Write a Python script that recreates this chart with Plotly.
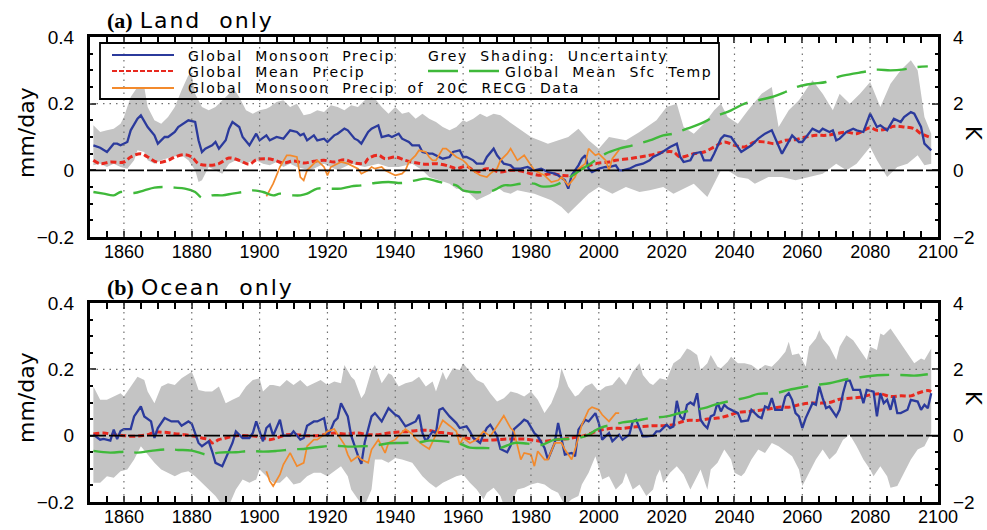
import plotly.graph_objects as go

# ---------------- DATA ----------------
# Panel (a) Land only
LAND_MON_YEARS = [1851,1853,1855,1857,1858,1859,1861,1862,1864,1865,1867,1869,1870,1872,1873,1875,1876,1878,1879,1881,
                  1882,1883,1884,1886,1887,1888,1890,1891,1892,1894,1895,1897,1898,1899,1900,1902,1903,1905,1907,1909,
                  1911,1912,1913,1914,1916,1917,1919,1920,1922,1923,1925,1926,1928,1929,1930,1932,1933,1935,1936,1938,
                  1939,1941,1942,1944,1945,1947,1948,1950,1951,1953,1954,1956,1957,1959,1960,1961,1963,1964,1966,1967,
                  1969,1970,1972,1974,1975,1977,1979,1981,1983,1985,1987,1988,1990,1991,1992,1994,1995,1996,1997,1998,
                  2000,2002,2003,2005,2006,2007,2009,2011,2013,2015,2016,2018,2020,2021,2023,2024,2025,2027,2028,2030,
                  2031,2033,2034,2036,2037,2039,2042,2045,2047,2049,2051,2054,2057,2059,2060,2063,2065,2066,2068,2069,
                  2070,2071,2073,2075,2076,2078,2080,2082,2083,2085,2087,2089,2090,2092,2093,2095,2096,2098]
LAND_MON = [0.075,0.068,0.055,0.08,0.08,0.075,0.085,0.12,0.155,0.165,0.13,0.105,0.08,0.1,0.1,0.115,0.13,0.145,0.15,0.145,
            0.09,0.055,0.065,0.075,0.085,0.065,0.09,0.125,0.145,0.13,0.1,0.075,0.095,0.11,0.09,0.105,0.09,0.1,0.095,0.12,
            0.115,0.105,0.11,0.09,0.105,0.09,0.095,0.085,0.105,0.11,0.125,0.12,0.095,0.09,0.08,0.115,0.125,0.135,0.1,0.105,
            0.1,0.11,0.095,0.085,0.075,0.075,0.055,0.05,0.05,0.04,0.035,0.04,0.055,0.06,0.04,0.04,0.03,0.02,0.02,0.04,
            0.065,0.045,0.02,0.015,0.005,0.005,0.01,0.0,0.005,-0.005,-0.01,-0.015,-0.03,-0.055,-0.015,0.015,0.035,0.045,0.005,-0.005,
            0.005,0.01,0.01,0.015,0.0,0.0,0.005,0.015,0.02,0.03,0.04,0.05,0.065,0.07,0.08,0.04,0.025,0.03,0.05,0.055,
            0.03,0.03,0.05,0.095,0.105,0.1,0.055,0.075,0.095,0.11,0.12,0.05,0.105,0.085,0.085,0.125,0.115,0.125,0.115,0.12,
            0.09,0.095,0.115,0.125,0.12,0.115,0.17,0.13,0.135,0.12,0.155,0.145,0.16,0.175,0.17,0.13,0.08,0.06]

LAND_MEAN_YEARS = [1851,1853,1856,1860,1862,1865,1867,1870,1873,1875,1878,1880,1882,1885,1888,1891,1894,1897,1899,1902,
                   1904,1907,1910,1913,1916,1919,1922,1925,1928,1931,1932,1935,1937,1940,1943,1946,1949,1952,1956,1958,
                   1961,1964,1967,1971,1974,1977,1980,1983,1986,1989,1992,1994,1996,1999,2003,2005,2009,2012,2015,2019,
                   2022,2024,2028,2031,2034,2037,2040,2043,2046,2049,2052,2055,2058,2061,2064,2067,2070,2073,2076,2080,
                   2082,2085,2087,2090,2093,2095,2098]
LAND_MEAN = [0.03,0.02,0.025,0.025,0.04,0.05,0.04,0.024,0.03,0.04,0.047,0.04,0.02,0.015,0.02,0.037,0.03,0.018,0.032,0.035,
             0.032,0.022,0.028,0.022,0.027,0.03,0.025,0.032,0.022,0.022,0.035,0.045,0.035,0.04,0.03,0.023,0.018,0.02,0.012,0.005,
             0.012,-0.005,0.005,-0.005,0.0,-0.002,-0.01,-0.015,-0.01,-0.015,-0.015,0.0,0.01,0.02,0.025,0.03,0.035,0.04,0.045,0.055,
             0.055,0.04,0.05,0.055,0.07,0.085,0.075,0.07,0.085,0.085,0.08,0.09,0.092,0.1,0.105,0.105,0.11,0.115,0.11,0.128,
             0.12,0.125,0.132,0.13,0.125,0.11,0.098]

LAND_TEMP_YEARS = [1851,1854,1857,1859,1863,1866,1869,1872,1875,1878,1881,1883,1886,1889,1892,1895,1898,1901,1904,1906,
                   1910,1912,1914,1917,1921,1924,1927,1930,1934,1938,1942,1946,1949,1952,1955,1958,1960,1963,1966,1969,
                   1972,1974,1977,1981,1983,1987,1990,1993,1996,1999,2002,2006,2010,2015,2019,2022,2026,2030,2034,2039,
                   2043,2047,2051,2055,2059,2063,2067,2071,2074,2078,2082,2086,2090,2094,2097]
LAND_TEMP = [-0.65,-0.7,-0.75,-0.65,-0.68,-0.6,-0.52,-0.5,-0.52,-0.55,-0.65,-0.82,-0.75,-0.75,-0.7,-0.65,-0.6,-0.65,-0.75,-0.7,
             -0.75,-0.75,-0.7,-0.55,-0.55,-0.55,-0.48,-0.45,-0.38,-0.35,-0.38,-0.3,-0.25,-0.32,-0.4,-0.45,-0.6,-0.65,-0.65,-0.6,
             -0.45,-0.45,-0.4,-0.4,-0.48,-0.45,-0.3,-0.1,0.1,0.3,0.5,0.65,0.75,0.9,1.05,1.1,1.25,1.4,1.6,1.8,
             2.0,2.1,2.2,2.35,2.52,2.6,2.65,2.82,2.88,2.95,3.02,3.0,3.03,3.1,3.12]

LAND_RECG_YEARS = [1902,1903,1904,1905,1906,1908,1909,1911,1912,1913,1914,1916,1917,1919,1920,1921,1923,1924,1926,1927,
                   1929,1930,1932,1933,1934,1936,1937,1939,1940,1942,1943,1944,1946,1947,1949,1950,1951,1952,1953,1954,
                   1955,1957,1958,1960,1961,1962,1964,1965,1967,1968,1970,1971,1973,1974,1976,1978,1979,1981,1983,1984,
                   1986,1988,1989,1991,1993,1994,1996,1997,1999,2000,2002,2003,2004,2006]
LAND_RECG = [-0.078,-0.06,-0.04,-0.015,0.01,0.045,0.045,0.04,-0.02,-0.03,0.0,0.02,0.03,0.01,-0.015,0.01,0.02,0.025,0.02,0.015,
             0.005,-0.01,0.0,0.01,0.005,0.01,0.0,-0.01,-0.015,-0.01,0.0,0.025,0.045,0.06,0.055,0.04,0.03,0.03,0.05,0.065,
             0.065,0.05,0.04,0.03,0.02,0.005,-0.01,-0.015,-0.02,-0.01,0.005,0.03,0.05,0.065,0.03,0.045,0.03,0.0,-0.01,-0.015,
             -0.035,-0.03,-0.02,-0.045,-0.02,0.005,0.02,0.065,0.045,0.05,0.03,0.0,0.035,0.062]

LAND_UNC_UP_YEARS = [1851,1853,1855,1857,1859,1860,1862,1864,1866,1867,1869,1871,1873,1875,1877,1879,1880,1881,1883,1885,
                     1887,1889,1891,1892,1894,1896,1898,1900,1902,1903,1905,1907,1909,1911,1913,1915,1917,1919,1921,1923,
                     1925,1927,1929,1931,1933,1934,1936,1938,1940,1942,1944,1946,1948,1950,1952,1954,1956,1958,1960,1961,
                     1963,1965,1967,1969,1971,1973,1975,1976,1980,1985,1991,1994,1997,2000,2003,2008,2012,2017,2020,2023,
                     2025,2028,2031,2034,2036,2038,2041,2044,2048,2051,2053,2056,2059,2063,2066,2069,2071,2074,2077,2080,
                     2083,2086,2089,2092,2094,2096,2098]
LAND_UNC_UP = [0.135,0.115,0.12,0.125,0.14,0.16,0.22,0.25,0.25,0.19,0.15,0.14,0.16,0.19,0.24,0.285,0.285,0.23,0.19,0.18,
               0.19,0.21,0.23,0.25,0.22,0.18,0.17,0.18,0.185,0.19,0.205,0.21,0.19,0.2,0.165,0.17,0.18,0.175,0.195,0.19,
               0.18,0.195,0.19,0.21,0.22,0.215,0.19,0.17,0.19,0.17,0.175,0.155,0.17,0.155,0.145,0.13,0.12,0.13,0.15,0.145,
               0.155,0.17,0.16,0.17,0.165,0.15,0.135,0.13,0.1,0.08,0.1,0.125,0.09,0.065,0.1,0.09,0.115,0.15,0.19,0.2,
               0.13,0.11,0.14,0.18,0.2,0.16,0.14,0.18,0.23,0.25,0.13,0.18,0.21,0.27,0.23,0.18,0.23,0.2,0.23,0.265,
               0.19,0.26,0.3,0.33,0.3,0.16,0.11]
LAND_UNC_LO_YEARS = [1851,1853,1855,1857,1859,1861,1863,1864,1866,1867,1869,1871,1874,1877,1879,1881,1882,1883,1885,1887,
                     1889,1891,1893,1895,1897,1899,1901,1903,1905,1907,1909,1911,1913,1915,1919,1923,1927,1931,1935,1938,
                     1941,1945,1948,1950,1953,1956,1958,1960,1962,1964,1966,1968,1970,1972,1974,1976,1981,1986,1989,1991,
                     1994,1997,2000,2004,2008,2012,2015,2019,2022,2024,2028,2032,2034,2036,2038,2041,2044,2046,2050,2054,
                     2058,2062,2066,2070,2073,2076,2080,2082,2085,2088,2091,2094,2096,2098]
LAND_UNC_LO = [0.015,0.02,0.01,0.02,0.01,0.005,0.03,0.06,0.055,0.03,0.02,0.03,0.04,0.045,0.03,0.0,-0.035,-0.03,0.01,0.0,
               -0.01,0.02,0.03,0.02,0.025,0.03,0.02,0.015,0.025,0.01,0.02,0.01,0.005,0.0,0.02,0.0,0.02,0.01,0.02,0.01,
               0.01,0.02,0.0,-0.02,-0.03,-0.04,-0.055,-0.055,-0.07,-0.09,-0.08,-0.07,-0.05,-0.065,-0.07,-0.06,-0.07,-0.09,-0.11,-0.13,
               -0.1,-0.07,-0.05,-0.07,-0.05,-0.065,-0.06,-0.05,-0.07,-0.06,-0.04,-0.08,-0.04,0.0,0.0,-0.02,-0.025,-0.04,-0.02,-0.02,
               -0.03,-0.02,-0.01,0.02,0.0,0.02,0.07,0.03,-0.02,0.01,0.02,0.045,0.015,0.02]

# Panel (b) Ocean only
OCN_MON_YEARS = [1851,1853,1854,1856,1857,1858,1859,1860,1862,1863,1865,1866,1868,1869,1870,1872,1874,1876,1877,1879,
                 1880,1882,1883,1885,1886,1887,1889,1890,1892,1893,1894,1895,1897,1898,1899,1900,1901,1902,1903,1904,
                 1906,1907,1909,1910,1912,1913,1914,1916,1917,1919,1920,1921,1922,1923,1924,1926,1927,1929,1930,1931,
                 1933,1934,1936,1938,1940,1941,1943,1944,1946,1947,1948,1949,1951,1952,1953,1954,1956,1958,1959,1961,
                 1962,1963,1965,1966,1967,1968,1970,1971,1973,1974,1975,1977,1978,1979,1981,1982,1984,1985,1987,1988,
                 1989,1990,1992,1993,1994,1996,1997,1999,2000,2001,2003,2004,2006,2007,2009,2010,2011,2013,2014,2016,
                 2017,2018,2020,2021,2022,2023,2024,2025,2026,2027,2028,2029,2030,2031,2032,2033,2034,2035,2036,2037,
                 2038,2040,2041,2042,2044,2045,2047,2048,2049,2050,2051,2052,2054,2055,2056,2057,2058,2059,2060,2061,
                 2063,2064,2065,2066,2067,2068,2070,2071,2072,2073,2074,2075,2077,2078,2079,2081,2082,2083,2084,2085,
                 2086,2087,2088,2089,2091,2092,2094,2095,2096,2097,2098]
OCN_MON = [0.003,-0.012,-0.01,-0.015,0.018,-0.01,0.014,0.02,0.02,0.058,0.088,0.058,0.043,-0.007,0.023,0.053,0.043,0.043,0.03,0.043,
           0.036,-0.022,-0.032,-0.017,-0.047,-0.082,-0.092,-0.067,-0.022,0.013,0.003,-0.007,-0.007,0.008,0.043,0.013,-0.017,0.023,0.033,0.0,
           0.048,0.0,0.0,0.013,-0.012,-0.007,0.03,0.043,0.043,0.053,0.0,0.018,0.043,0.053,0.098,0.058,0.0,-0.06,-0.085,-0.02,
           0.058,0.068,0.043,0.083,0.063,0.058,0.028,0.033,0.043,0.063,0.008,-0.017,0.013,0.008,0.078,0.083,0.058,0.038,0.023,0.028,
           0.013,-0.007,-0.022,0.003,0.023,0.033,0.0,-0.04,-0.05,-0.03,0.02,0.038,0.048,0.043,0.008,-0.002,-0.037,-0.072,-0.022,0.038,
           -0.007,-0.057,-0.052,-0.062,0.018,0.048,0.043,0.068,0.038,-0.012,0.008,-0.017,0.003,-0.012,0.003,0.043,0.048,-0.002,-0.002,0.0,
           0.013,0.013,0.033,0.023,0.028,0.105,0.058,0.048,0.093,0.1,0.093,0.128,0.048,0.033,0.023,0.058,0.063,0.1,0.073,0.093,
           0.083,0.073,0.068,0.043,0.046,0.078,0.058,0.053,0.088,0.083,0.113,0.078,0.078,0.118,0.128,0.108,0.068,0.058,0.023,0.053,
           0.098,0.093,0.148,0.113,0.083,0.088,0.058,0.078,0.128,0.166,0.166,0.138,0.138,0.098,0.138,0.133,0.058,0.128,0.098,0.108,
           0.078,0.118,0.068,0.068,0.078,0.108,0.103,0.078,0.093,0.083,0.128]

OCN_MEAN_YEARS = [1851,1854,1857,1860,1863,1865,1867,1869,1872,1875,1878,1881,1883,1885,1886,1888,1890,1893,1896,1899,
                  1901,1903,1905,1908,1911,1914,1917,1920,1922,1925,1929,1932,1935,1938,1941,1944,1947,1950,1952,1955,
                  1958,1961,1964,1967,1970,1973,1976,1978,1981,1984,1987,1990,1992,1995,1998,2001,2004,2007,2010,2013,
                  2016,2019,2022,2024,2026,2029,2032,2035,2038,2041,2044,2047,2050,2053,2056,2059,2062,2065,2068,2071,
                  2074,2077,2080,2083,2086,2089,2092,2094,2097,2098]
OCN_MEAN = [0.005,0.008,0.003,0.0,-0.002,0.0,0.003,0.01,0.01,0.006,0.003,-0.002,-0.007,-0.012,-0.022,-0.012,-0.007,0.0,0.0,-0.002,
            -0.007,-0.012,-0.007,0.003,0.003,0.0,0.0,0.005,0.008,0.005,0.008,0.003,0.003,0.008,0.011,0.013,0.016,0.016,0.011,0.008,
            0.003,-0.007,-0.012,-0.014,-0.012,-0.01,-0.01,-0.01,-0.014,-0.017,-0.012,-0.01,-0.007,-0.002,0.008,0.018,0.022,0.022,0.026,0.028,
            0.03,0.03,0.033,0.04,0.046,0.046,0.05,0.053,0.06,0.07,0.073,0.076,0.08,0.086,0.086,0.093,0.098,0.098,0.1,0.11,
            0.113,0.116,0.123,0.126,0.118,0.12,0.12,0.128,0.136,0.133]

OCN_TEMP_YEARS = [1851,1856,1861,1864,1868,1873,1876,1880,1885,1888,1893,1897,1901,1905,1910,1913,1917,1922,1926,1930,
                  1934,1938,1942,1947,1950,1955,1959,1962,1966,1971,1975,1979,1983,1987,1991,1994,1997,1999,2001,2004,
                  2007,2011,2015,2020,2023,2027,2031,2035,2039,2044,2047,2052,2056,2060,2064,2068,2072,2077,2080,2084,
                  2089,2093,2097]
OCN_TEMP = [-0.46,-0.51,-0.48,-0.51,-0.46,-0.41,-0.43,-0.45,-0.58,-0.51,-0.5,-0.46,-0.48,-0.46,-0.41,-0.4,-0.35,-0.3,-0.33,-0.32,
            -0.3,-0.23,-0.22,-0.2,-0.15,-0.18,-0.24,-0.36,-0.37,-0.37,-0.22,-0.24,-0.28,-0.12,-0.1,-0.07,0.03,0.16,0.26,0.33,
            0.4,0.45,0.53,0.58,0.66,0.76,0.83,0.96,1.05,1.16,1.26,1.28,1.38,1.46,1.53,1.58,1.68,1.76,1.8,1.83,
            1.83,1.81,1.85]

OCN_RECG_YEARS = [1902,1903,1904,1906,1907,1909,1910,1911,1913,1914,1916,1917,1919,1920,1922,1923,1924,1925,1926,1927,
                  1929,1930,1932,1933,1935,1937,1938,1940,1941,1943,1945,1946,1948,1950,1952,1954,1956,1958,1959,1960,
                  1962,1964,1966,1968,1969,1972,1974,1975,1977,1978,1980,1981,1982,1984,1985,1987,1989,1990,1992,1993,
                  1995,1997,1998,2000,2001,2003,2005,2006]
OCN_RECG = [-0.107,-0.137,-0.152,-0.117,-0.087,-0.052,-0.072,-0.092,-0.082,-0.032,-0.012,-0.012,0.003,0.013,0.02,0.003,-0.012,-0.027,-0.057,-0.077,
            -0.062,-0.072,-0.082,-0.042,-0.012,-0.052,-0.022,-0.012,0.0,0.02,0.005,-0.01,-0.027,-0.04,0.003,0.046,0.03,0.013,-0.027,-0.007,
            -0.022,-0.012,0.013,-0.002,0.013,0.06,0.023,0.013,-0.072,-0.052,-0.057,-0.092,-0.047,-0.072,-0.072,-0.022,-0.022,-0.042,-0.072,-0.042,
            0.033,0.078,0.086,0.078,0.063,0.043,0.068,0.068]

OCN_UNC_UP_YEARS = [1851,1853,1855,1857,1859,1860,1862,1864,1866,1867,1869,1871,1873,1875,1877,1879,1880,1881,1882,1884,
                    1886,1888,1890,1892,1894,1896,1898,1900,1901,1903,1904,1906,1908,1910,1912,1914,1916,1918,1920,1922,
                    1924,1925,1927,1928,1930,1931,1933,1934,1936,1938,1939,1941,1943,1945,1947,1949,1951,1952,1954,1955,
                    1957,1959,1960,1962,1964,1966,1968,1970,1972,1974,1976,1978,1980,1982,1984,1986,1988,1989,1991,1993,
                    1994,1996,1998,2000,2002,2004,2006,2008,2010,2012,2013,2015,2016,2018,2020,2022,2024,2026,2027,2029,
                    2030,2032,2033,2035,2036,2038,2039,2041,2043,2045,2047,2049,2051,2053,2055,2056,2057,2059,2061,2062,
                    2064,2065,2066,2068,2070,2071,2073,2075,2077,2079,2080,2082,2083,2084,2086,2087,2089,2091,2093,2095,
                    2096,2098]
OCN_UNC_UP = [0.148,0.108,0.108,0.118,0.128,0.118,0.148,0.178,0.168,0.133,0.098,0.148,0.158,0.153,0.173,0.188,0.193,0.168,0.138,0.133,
              0.133,0.148,0.098,0.108,0.118,0.148,0.168,0.173,0.133,0.153,0.153,0.148,0.168,0.153,0.168,0.148,0.158,0.168,0.153,0.163,
              0.158,0.213,0.178,0.168,0.113,0.128,0.198,0.213,0.158,0.188,0.183,0.148,0.158,0.163,0.178,0.148,0.163,0.133,0.193,0.168,
              0.203,0.198,0.218,0.193,0.168,0.158,0.128,0.103,0.113,0.133,0.128,0.118,0.133,0.108,0.068,0.098,0.148,0.203,0.148,0.118,
              0.123,0.148,0.158,0.133,0.148,0.153,0.178,0.153,0.193,0.218,0.183,0.158,0.153,0.173,0.168,0.218,0.233,0.263,0.258,0.243,
              0.198,0.218,0.243,0.208,0.203,0.223,0.238,0.218,0.218,0.213,0.198,0.213,0.208,0.228,0.253,0.283,0.243,0.248,0.208,0.268,
              0.293,0.318,0.293,0.268,0.228,0.268,0.303,0.288,0.258,0.228,0.268,0.258,0.308,0.303,0.323,0.308,0.278,0.248,0.218,0.233,
              0.228,0.263]
OCN_UNC_LO_YEARS = [1851,1853,1855,1857,1859,1861,1863,1865,1867,1869,1871,1873,1875,1877,1879,1881,1883,1885,1887,1889,
                    1891,1893,1895,1897,1899,1900,1902,1904,1906,1908,1910,1912,1914,1916,1918,1920,1922,1924,1926,1927,
                    1929,1931,1933,1934,1936,1938,1940,1942,1945,1948,1950,1952,1954,1956,1958,1960,1962,1964,1966,1967,
                    1969,1971,1972,1974,1976,1978,1980,1982,1984,1986,1988,1990,1992,1994,1995,1997,1999,2001,2003,2005,
                    2007,2008,2010,2012,2014,2016,2017,2018,2019,2021,2023,2025,2027,2029,2030,2032,2033,2035,2037,2039,
                    2040,2042,2043,2045,2047,2049,2051,2053,2055,2057,2059,2060,2062,2064,2066,2068,2070,2072,2074,2076,
                    2078,2080,2081,2083,2085,2086,2088,2090,2092,2094,2096,2098]
OCN_UNC_LO = [-0.142,-0.142,-0.122,-0.127,-0.107,-0.102,-0.072,-0.032,-0.057,-0.082,-0.102,-0.112,-0.122,-0.112,-0.107,-0.122,-0.142,-0.162,-0.182,-0.21,
              -0.21,-0.162,-0.132,-0.142,-0.132,-0.102,-0.122,-0.142,-0.142,-0.122,-0.147,-0.142,-0.122,-0.112,-0.112,-0.122,-0.107,-0.092,-0.122,-0.162,
              -0.192,-0.21,-0.162,-0.072,-0.072,-0.082,-0.067,-0.072,-0.082,-0.122,-0.142,-0.157,-0.142,-0.132,-0.122,-0.117,-0.142,-0.162,-0.192,-0.172,
              -0.157,-0.182,-0.21,-0.21,-0.162,-0.157,-0.147,-0.142,-0.147,-0.162,-0.172,-0.21,-0.192,-0.182,-0.147,-0.112,-0.062,-0.132,-0.122,-0.162,
              -0.142,-0.112,-0.162,-0.147,-0.182,-0.162,-0.122,-0.102,-0.142,-0.112,-0.092,-0.117,-0.162,-0.122,-0.102,-0.162,-0.102,-0.082,-0.042,-0.072,
              -0.112,-0.122,-0.112,-0.072,-0.042,-0.052,-0.022,-0.032,-0.047,-0.062,-0.102,-0.152,-0.112,-0.072,-0.042,-0.072,-0.052,-0.012,0.003,-0.032,
              -0.072,-0.102,-0.122,-0.092,-0.122,-0.157,-0.152,-0.112,-0.072,-0.042,-0.032,0.008]

X_TICKS = [1860, 1880, 1900, 1920, 1940, 1960, 1980, 2000, 2020, 2040, 2060, 2080, 2100]
GRID_YEARS = [1860, 1880, 1900, 1920, 1940, 1960, 1980, 2000, 2020, 2040, 2060, 2080]
P_TICKS = [-0.2, 0, 0.2, 0.4]
P_TICKTEXT = ["\u22120.2", "0", "0.2", "0.4"]
K_TICKS = [-2, 0, 2, 4]
K_TICKTEXT = ["\u22122", "0", "2", "4"]

# ---------------- STYLE / LAYOUT ----------------
W, H = 987, 530
ML, MR, MT, MB = 90, 49, 37, 28
BLUE = "#2b3a9c"
RED = "#e8291f"
GREEN = "#3fb93a"
ORANGE = "#f38a2c"
GREY = "#c4c4c4"
TICKFONT = dict(family="Liberation Sans, Arial, sans-serif", size=19, color="black")
XTICKFONT = dict(family="Liberation Sans, Arial, sans-serif", size=18, color="black")
LABFONT = "DejaVu Sans"


def px_x(px):
    return (px - ML) / (W - ML - MR)


def px_y(py):
    return (H - MB - py) / (H - MT - MB)


fig = go.Figure()


def add_panel(xa, ya_left, ya_right, up_y, up, lo_y, lo, temp_y, temp, mean_y, mean, mon_y, mon, recg_y, recg):
    fig.add_trace(go.Scatter(x=up_y + lo_y[::-1], y=up + lo[::-1], fill="toself", fillcolor=GREY,
                             line=dict(width=0), mode="lines", hoverinfo="skip", showlegend=False,
                             xaxis=xa, yaxis=ya_left))
    fig.add_trace(go.Scatter(x=temp_y, y=temp, mode="lines", line=dict(color=GREEN, width=2.4, dash="30px,11px"),
                             line_shape="spline", showlegend=False, xaxis=xa, yaxis=ya_right))
    fig.add_trace(go.Scatter(x=mean_y, y=mean, mode="lines", line=dict(color=RED, width=3, dash="6px,3px"),
                             line_shape="spline", showlegend=False, xaxis=xa, yaxis=ya_left))
    fig.add_trace(go.Scatter(x=mon_y, y=mon, mode="lines", line=dict(color=BLUE, width=2.3),
                             showlegend=False, xaxis=xa, yaxis=ya_left))
    fig.add_trace(go.Scatter(x=recg_y, y=recg, mode="lines", line=dict(color=ORANGE, width=1.7),
                             showlegend=False, xaxis=xa, yaxis=ya_left))


add_panel("x", "y", "y2", LAND_UNC_UP_YEARS, LAND_UNC_UP, LAND_UNC_LO_YEARS, LAND_UNC_LO,
          LAND_TEMP_YEARS, LAND_TEMP, LAND_MEAN_YEARS, LAND_MEAN, LAND_MON_YEARS, LAND_MON,
          LAND_RECG_YEARS, LAND_RECG)
add_panel("x2", "y3", "y4", OCN_UNC_UP_YEARS, OCN_UNC_UP, OCN_UNC_LO_YEARS, OCN_UNC_LO,
          OCN_TEMP_YEARS, OCN_TEMP, OCN_MEAN_YEARS, OCN_MEAN, OCN_MON_YEARS, OCN_MON,
          OCN_RECG_YEARS, OCN_RECG)

dom_a = [px_y(237), 1.0]
dom_b = [0.0, px_y(303)]

xcommon = dict(range=[1850, 2100], tickvals=X_TICKS, ticks="inside", ticklen=6, tickwidth=2,
               showline=True, linewidth=3, linecolor="black", mirror="allticks", showgrid=False,
               zeroline=False, tickfont=XTICKFONT, domain=[0, 1], automargin=False, ticklabelstandoff=-4,
               minor=dict(ticks="inside", ticklen=3, tickwidth=1.5, dtick=5, tick0=1850, tickcolor="black"))
yleft = dict(range=[-0.2, 0.4], tickvals=P_TICKS, ticktext=P_TICKTEXT, ticks="inside", ticklen=6, tickwidth=2,
             showline=True, linewidth=3, linecolor="black", mirror="allticks", showgrid=False, zeroline=False,
             tickfont=TICKFONT, ticklabelstandoff=9, automargin=False,
             minor=dict(ticks="inside", ticklen=3, tickwidth=1.5, dtick=0.05, tickcolor="black"))
yright = dict(range=[-2, 4], tickvals=K_TICKS, ticktext=K_TICKTEXT, ticks="",
              showline=False, showgrid=False, zeroline=False, side="right", tickfont=TICKFONT,
              ticklabelstandoff=14, automargin=False)

fig.update_layout(
    width=W, height=H, margin=dict(l=ML, r=MR, t=MT, b=MB, autoexpand=False),
    paper_bgcolor="white", plot_bgcolor="white", showlegend=False,
    xaxis=dict(xcommon, anchor="y"),
    xaxis2=dict(xcommon, anchor="y3"),
    yaxis=dict(yleft, domain=dom_a, anchor="x"),
    yaxis2=dict(yright, overlaying="y", anchor="x"),
    yaxis3=dict(yleft, domain=dom_b, anchor="x2"),
    yaxis4=dict(yright, overlaying="y3", anchor="x2"),
)

shapes = []
for xr, yr in (("x", "y"), ("x2", "y3")):
    for g in GRID_YEARS:
        shapes.append(dict(type="line", xref=xr, yref=yr + " domain", x0=g, x1=g, y0=0, y1=1, layer="above",
                           line=dict(color="#707070", width=1.2, dash="1.5px,5px")))
    shapes.append(dict(type="line", xref=xr + " domain", yref=yr, x0=0, x1=1, y0=0.2, y1=0.2, layer="above",
                       line=dict(color="#707070", width=1.2, dash="1.5px,5px")))
    shapes.append(dict(type="line", xref=xr + " domain", yref=yr, x0=0, x1=1, y0=0, y1=0, layer="above",
                       line=dict(color="black", width=1.6, dash="16px,3px")))

# legend box and samples (paper coords)
shapes.append(dict(type="rect", xref="paper", yref="paper", x0=px_x(100), x1=px_x(719), y0=px_y(99), y1=px_y(43),
                   layer="above", line=dict(color="black", width=1.8), fillcolor="rgba(0,0,0,0)"))
shapes.append(dict(type="line", xref="paper", yref="paper", x0=px_x(112), x1=px_x(174), y0=px_y(55), y1=px_y(55),
                   layer="above", line=dict(color=BLUE, width=2.2)))
shapes.append(dict(type="line", xref="paper", yref="paper", x0=px_x(112), x1=px_x(174), y0=px_y(71), y1=px_y(71),
                   layer="above", line=dict(color=RED, width=2.2, dash="5px,2px")))
shapes.append(dict(type="line", xref="paper", yref="paper", x0=px_x(112), x1=px_x(174), y0=px_y(88), y1=px_y(88),
                   layer="above", line=dict(color=ORANGE, width=1.8)))
shapes.append(dict(type="line", xref="paper", yref="paper", x0=px_x(428), x1=px_x(499), y0=px_y(71), y1=px_y(71),
                   layer="above", line=dict(color=GREEN, width=2.4, dash="30px,11px")))
fig.update_layout(shapes=shapes)

NB = "\u00a0"


def spaced(t, ls):
    return "<span style=\"letter-spacing:%spx\">%s</span>" % (ls, t.replace(" ", NB + NB))


anns = []


def ann(x, y, text, size=14, family=LABFONT, angle=0, xanchor="left"):
    anns.append(dict(x=x, y=y, xref="paper", yref="paper", text=text, showarrow=False, xanchor=xanchor,
                     yanchor="middle", textangle=angle, font=dict(family=family, size=size, color="black")))


LEG_LS = 1.7
LEG_SIZE = 14
ann(px_x(186), px_y(55.5), spaced("Global Monsoon Precip", LEG_LS), size=LEG_SIZE)
ann(px_x(186), px_y(71.5), spaced("Global Mean Precip", LEG_LS), size=LEG_SIZE)
ann(px_x(186), px_y(88), spaced("Global Monsoon Precip of 20C RECG Data", LEG_LS), size=LEG_SIZE)
ann(px_x(426), px_y(55.5), spaced("Grey Shading: Uncertainty", LEG_LS), size=LEG_SIZE)
ann(px_x(503), px_y(71.5), spaced("Global Mean Sfc Temp", LEG_LS), size=LEG_SIZE)

TITLE_TAG = "<span style=\"font-family:'Liberation Serif';font-weight:bold\">%s</span>"
ann(px_x(105), px_y(21), TITLE_TAG % "(a)" + NB + spaced("Land only", 2), size=22)
ann(px_x(105), px_y(287), TITLE_TAG % "(b)" + NB + spaced("Ocean only", 2), size=22)

ann(px_x(26), px_y(133), "mm/day", size=22, angle=-90, xanchor="center")
ann(px_x(26), px_y(398), "mm/day", size=22, angle=-90, xanchor="center")
ann(px_x(973), px_y(133), "K", size=21, angle=90, xanchor="center")
ann(px_x(973), px_y(398), "K", size=21, angle=90, xanchor="center")
fig.update_layout(annotations=anns)

fig.write_html("out.html", config={"displayModeBar": False},
               post_script="document.body.style.margin='0';")
